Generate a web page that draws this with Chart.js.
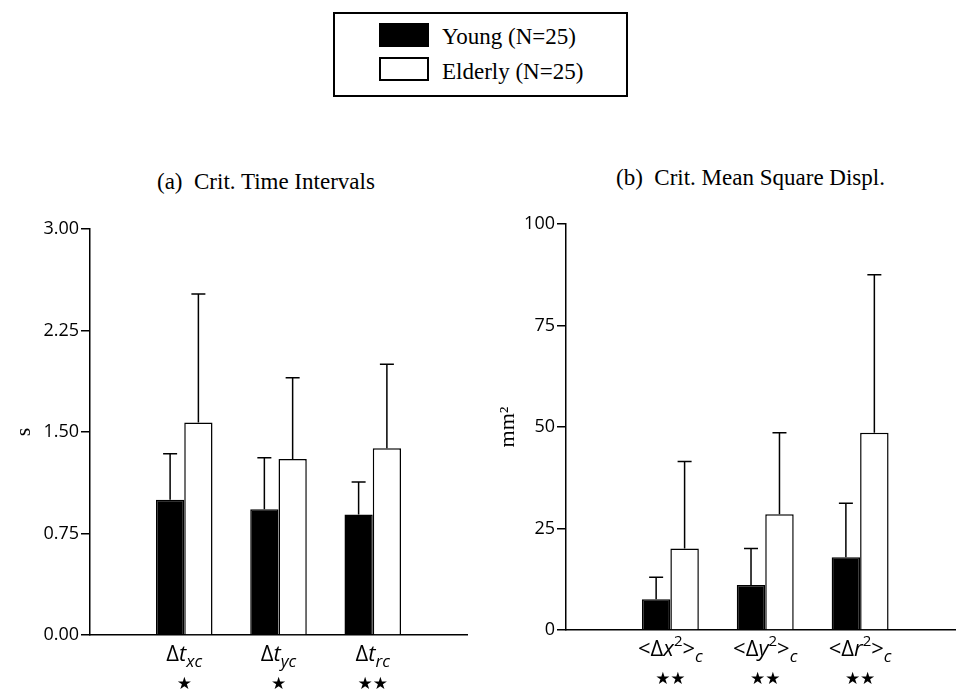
<!DOCTYPE html>
<html>
<head>
<meta charset="utf-8">
<script src="https://cdn.jsdelivr.net/npm/chart.js@4.4.1/dist/chart.umd.min.js"></script>
<style>
  body { margin: 0; background: #fff; }
  #page { position: relative; width: 958px; height: 693px; overflow: hidden; }
  canvas { position: absolute; top: 0; }
  .title { position: absolute; font: 23px "Liberation Serif", "Times New Roman", serif; line-height: 23px; white-space: pre; color: #000; }
  #legend { position: absolute; left: 333px; top: 12px; width: 295px; height: 85px; box-sizing: border-box; border: 2px solid #000; }
  .sw { position: absolute; left: 44px; width: 50px; height: 24px; box-sizing: border-box; border: 2px solid #000; }
  .lt { position: absolute; left: 107px; font: 23px "Liberation Serif", "Times New Roman", serif; line-height: 24px; white-space: pre; }
</style>
</head>
<body>
<div id="page">
  <div id="legend"></div>
  <div class="title" id="title-a" style="left:157px; top:170px;"></div>
  <div class="title" id="title-b" style="left:616px; top:166px;"></div>
  <canvas id="chartA" width="480" height="693" style="left:0;"></canvas>
  <canvas id="chartB" width="478" height="693" style="left:480px;"></canvas>
</div>
<script>
// series
const seriesNames = ['Young (N=25)', 'Elderly (N=25)'];
const seriesColors = ['#000000', '#ffffff'];

// (a) critical time intervals, s
const titleA = '(a)  Crit. Time Intervals';
const positionsA = [1, 2, 3];
const categoriesA = [
  [['Δ', 'n'], ['t', 'i'], ['xc', 'sub']],
  [['Δ', 'n'], ['t', 'i'], ['yc', 'sub']],
  [['Δ', 'n'], ['t', 'i'], ['rc', 'sub']]
];
const starsA = ['★', '★', '★★'];
const youngA = [1.00, 0.93, 0.89];
const youngErrA = [0.34, 0.38, 0.24];
const elderlyA = [1.57, 1.30, 1.38];
const elderlyErrA = [0.95, 0.60, 0.62];
const yTicksA = [0, 0.75, 1.5, 2.25, 3];

// (b) critical mean square displacement, mm2
const titleB = '(b)  Crit. Mean Square Displ.';
const positionsB = [1, 2, 3];
const categoriesB = [
  [['<Δ', 'n'], ['x', 'i'], ['2', 'sup'], ['>', 'n'], ['c', 'sub']],
  [['<Δ', 'n'], ['y', 'i'], ['2', 'sup'], ['>', 'n'], ['c', 'sub']],
  [['<Δ', 'n'], ['r', 'i'], ['2', 'sup'], ['>', 'n'], ['c', 'sub']]
];
const starsB = ['★★', '★★', '★★'];
const youngB = [7.6, 11.1, 17.9];
const youngErrB = [5.4, 9.0, 13.3];
const elderlyB = [20.1, 28.5, 48.6];
const elderlyErrB = [21.4, 20.1, 38.9];
const yTicksB = [0, 25, 50, 75, 100];

const SERIF = '"Liberation Serif", "Times New Roman", serif';
const SANS = '"Open Sans", "DejaVu Sans", sans-serif';

// legend + titles
document.getElementById('title-a').textContent = titleA;
document.getElementById('title-b').textContent = titleB;
const legend = document.getElementById('legend');
seriesNames.forEach((name, i) => {
  const sw = document.createElement('div');
  sw.className = 'sw';
  sw.style.top = (i === 0 ? 9 : 43) + 'px';
  sw.style.background = seriesColors[i];
  legend.appendChild(sw);
  const t = document.createElement('div');
  t.className = 'lt';
  t.style.top = (i === 0 ? 11 : 46) + 'px';
  t.textContent = name;
  legend.appendChild(t);
});

// upper error bars
const errorBars = {
  id: 'errorBars',
  afterDatasetsDraw(chart) {
    const ctx = chart.ctx;
    const ys = chart.scales.y;
    ctx.save();
    ctx.strokeStyle = '#000';
    ctx.lineWidth = 1.5;
    chart.data.datasets.forEach((ds, di) => {
      chart.getDatasetMeta(di).data.forEach((bar, i) => {
        const top = ys.getPixelForValue(ds.data[i].y + ds.err[i]);
        ctx.beginPath();
        ctx.moveTo(bar.x, bar.y);
        ctx.lineTo(bar.x, top);
        ctx.moveTo(bar.x - 7, top);
        ctx.lineTo(bar.x + 7, top);
        ctx.stroke();
      });
    });
    ctx.restore();
  }
};

// category labels with sub/superscripts and significance stars
function segFont(style) {
  if (style === 'i') return 'italic 22px ' + SANS;
  if (style === 'sub') return 'italic 17px ' + SANS;
  if (style === 'sup') return '15px ' + SANS;
  return '22px ' + SANS;
}
const richLabels = {
  id: 'richLabels',
  afterDraw(chart, args, opts) {
    const ctx = chart.ctx;
    const xs = chart.scales.x;
    const base = chart.chartArea.bottom + 26;
    ctx.save();
    ctx.fillStyle = '#000';
    ctx.textBaseline = 'alphabetic';
    opts.labels.forEach((segs, i) => {
      const cx = xs.getPixelForValue(opts.positions[i]);
      let w = 0;
      segs.forEach(([txt, st]) => { ctx.font = segFont(st); w += ctx.measureText(txt).width; });
      let x = cx - w / 2;
      ctx.textAlign = 'left';
      segs.forEach(([txt, st]) => {
        ctx.font = segFont(st);
        const dy = st === 'sub' ? 6 : (st === 'sup' ? -10 : 0);
        ctx.fillText(txt, x, base + dy);
        x += ctx.measureText(txt).width;
      });
      ctx.font = '17px "DejaVu Sans", sans-serif';
      ctx.textAlign = 'center';
      ctx.textBaseline = 'middle';
      ctx.fillText(opts.stars[i], cx, chart.chartArea.bottom + 50);
      ctx.textBaseline = 'alphabetic';
    });
    ctx.restore();
  }
};

function makeChart(id, cfg) {
  const bars = (vals, errs, k) => ({
    label: seriesNames[k],
    data: vals.map((v, i) => ({ x: cfg.positions[i], y: v })),
    err: errs,
    backgroundColor: seriesColors[k],
    borderColor: '#000',
    borderWidth: 1.5,
    borderSkipped: 'bottom',
    categoryPercentage: 0.6,
    barPercentage: 1.0
  });
  return new Chart(document.getElementById(id), {
    type: 'bar',
    data: {
      datasets: [
        bars(cfg.young, cfg.youngErr, 0),
        bars(cfg.elderly, cfg.elderlyErr, 1)
      ]
    },
    plugins: [errorBars, richLabels],
    options: {
      responsive: false,
      animation: false,
      devicePixelRatio: 1,
      layout: { padding: cfg.padding },
      plugins: {
        legend: { display: false },
        tooltip: { enabled: false },
        richLabels: { labels: cfg.labels, stars: cfg.stars, positions: cfg.positions }
      },
      scales: {
        x: {
          type: 'linear',
          min: cfg.xMin,
          max: 4,
          offset: false,
          grid: { display: false, offset: false },
          border: { display: true, color: '#000', width: 1.5 },
          ticks: { display: false },
          afterBuildTicks: s => { s.ticks = cfg.positions.map(v => ({ value: v })); },
          afterFit: s => { s.height = 0; }
        },
        y: {
          min: cfg.yTicks[0],
          max: cfg.yTicks[cfg.yTicks.length - 1],
          afterBuildTicks: s => { s.ticks = cfg.yTicks.map(v => ({ value: v })); },
          afterFit: s => { s.width = cfg.axisWidth; },
          grid: { display: true, drawOnChartArea: false, color: '#000', lineWidth: 1.5, tickLength: 9 },
          border: { display: true, color: '#000', width: 1.5 },
          ticks: {
            color: '#000',
            padding: 2,
            font: { family: SANS, size: 18 },
            callback: v => cfg.fmt(v)
          },
          title: {
            display: true,
            text: cfg.yTitle,
            color: '#000',
            font: { family: SERIF, size: 22 },
            padding: { top: cfg.titlePad, bottom: 0 }
          }
        }
      }
    }
  });
}

makeChart('chartA', {
  positions: positionsA, labels: categoriesA, stars: starsA,
  young: youngA, youngErr: youngErrA, elderly: elderlyA, elderlyErr: elderlyErrA,
  yTicks: yTicksA, fmt: v => v.toFixed(2), yTitle: 's', titlePad: 11,
  xMin: 0, axisWidth: 90,
  padding: { left: 0, right: 13, top: 229, bottom: 58 }
});

makeChart('chartB', {
  positions: positionsB, labels: categoriesB, stars: starsB,
  young: youngB, youngErr: youngErrB, elderly: elderlyB, elderlyErr: elderlyErrB,
  yTicks: yTicksB, fmt: v => String(v), yTitle: 'mm²', titlePad: 15,
  xMin: -0.1, axisWidth: 86,
  padding: { left: 0, right: 3, top: 224, bottom: 63 }
});
</script>
</body>
</html>
